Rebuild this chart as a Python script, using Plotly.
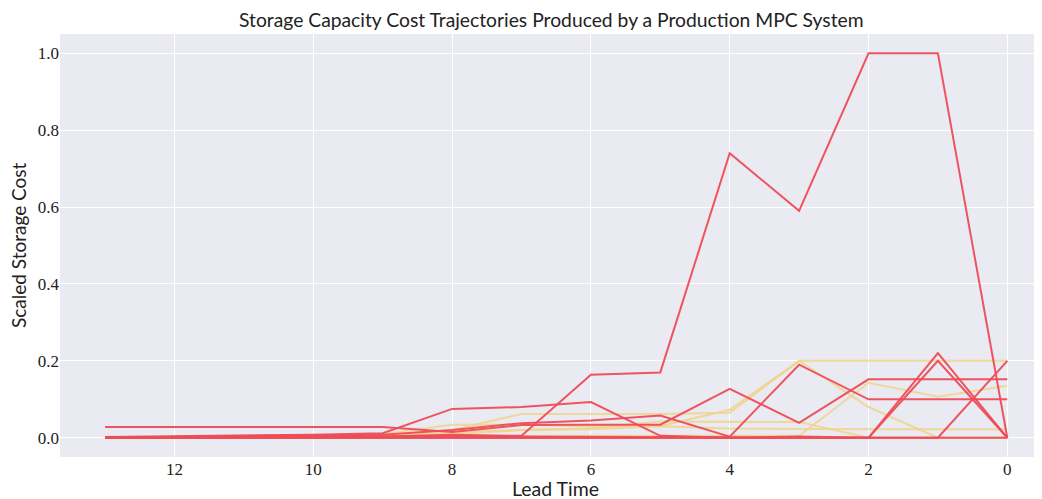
import plotly.graph_objects as go

lead_time = [13, 12, 11, 10, 9, 8, 7, 6, 5, 4, 3, 2, 1, 0]

# low-priority (yellow) trajectories
yellow_series = [
    [0, 0, 0, 0, 0.005, 0.02, 0.062, 0.062, 0.062, 0.065, 0.2, 0.2, 0.2, 0.2],
    [0, 0, 0, 0, 0.01, 0.034, 0.034, 0.03, 0.03, 0.073, 0.2, 0.08, 0.0, 0.0],
    [0, 0, 0, 0, 0, 0.004, 0.005, 0.005, 0.005, 0.005, 0.005, 0.143, 0.107, 0.135],
    [0, 0, 0, 0, 0.004, 0.01, 0.02, 0.025, 0.042, 0.042, 0.041, 0.0, 0.0, 0.0],
    [0, 0, 0, 0, 0.004, 0.015, 0.02, 0.022, 0.03, 0.024, 0.023, 0.022, 0.022, 0.022],
]

# high-priority (red) trajectories
red_series = [
    [0, 0, 0, 0, 0.003, 0.008, 0.005, 0.164, 0.17, 0.74, 0.59, 1.0, 1.0, 0.0],
    [0.002, 0.004, 0.006, 0.008, 0.012, 0.075, 0.08, 0.093, 0.005, 0, 0, 0, 0, 0],
    [0.028, 0.028, 0.028, 0.028, 0.028, 0.015, 0.033, 0.034, 0.034, 0.127, 0.039, 0.152, 0.152, 0.152],
    [0, 0.002, 0.004, 0.006, 0.008, 0.02, 0.038, 0.045, 0.058, 0.003, 0.19, 0.1, 0.1, 0.1],
    [0, 0, 0.002, 0.002, 0.003, 0.004, 0.003, 0.002, 0.002, 0, 0, 0, 0.22, 0],
    [0, 0, 0, 0, 0, 0, 0, 0, 0, 0, 0.003, 0, 0.2, 0],
    [0, 0, 0, 0, 0, 0, 0, 0, 0, 0, 0, 0, 0, 0.2],
]

x_ticks = [12, 10, 8, 6, 4, 2, 0]
y_ticks = [0.0, 0.2, 0.4, 0.6, 0.8, 1.0]

# page has an 8px body margin; figure coordinates are offset accordingly
W, H = 1042, 499
L, R, T, B = 52, 0, 26, 50
PW, PH = W - L - R, H - T - B

fig = go.Figure()
for s in yellow_series:
    fig.add_trace(go.Scatter(x=lead_time, y=s, mode="lines",
                             line=dict(color="rgba(240,212,140,0.85)", width=2),
                             showlegend=False, hoverinfo="skip"))
for s in red_series:
    fig.add_trace(go.Scatter(x=lead_time, y=s, mode="lines",
                             line=dict(color="rgba(238,76,86,0.95)", width=2),
                             showlegend=False, hoverinfo="skip"))

tick_font = dict(family="Liberation Serif, DejaVu Serif, serif", size=17, color="#222")
label_font = dict(family="Lato, DejaVu Sans, sans-serif", size=19.5, color="#222")

fig.update_layout(
    width=W, height=H,
    margin=dict(l=L, r=R, t=T, b=B, autoexpand=False),
    paper_bgcolor="white",
    plot_bgcolor="#EAEAF2",
    xaxis=dict(range=[13.65, 13.65 - PW / 69.4], tickvals=x_ticks,
               ticktext=[str(v) for v in x_ticks], automargin=False,
               showgrid=True, gridcolor="white", gridwidth=1.2, zeroline=False,
               showline=False, ticks="", ticklen=4, tickfont=tick_font),
    yaxis=dict(range=[-0.05, 1.05], tickvals=y_ticks,
               ticktext=[f"{v:.1f}" for v in y_ticks], automargin=False,
               showgrid=True, gridcolor="white", gridwidth=1.2, zeroline=False,
               showline=False, ticks="", tickfont=tick_font),
    annotations=[
        dict(text="Storage Capacity Cost Trajectories Produced by a Production MPC System",
             xref="paper", yref="paper", x=(551 - 8 - L) / PW, y=1 + (T - 11) / PH,
             xanchor="center", yanchor="middle", showarrow=False,
             font=dict(family="Lato, DejaVu Sans, sans-serif", size=19.3, color="#222")),
        dict(text="Lead Time", xref="paper", yref="paper", x=(555 - 8 - L) / PW,
             y=-(480 - (H - B)) / PH, xanchor="center", yanchor="middle",
             showarrow=False, font=label_font),
        dict(text="Scaled Storage Cost", xref="paper", yref="paper",
             x=-(L - 11) / PW, y=1 - (237 - T) / PH,
             xanchor="center", yanchor="middle", textangle=-90,
             showarrow=False, font=dict(family="Lato, DejaVu Sans, sans-serif", size=19, color="#222")),
    ],
)

fig.write_html("out.html")
